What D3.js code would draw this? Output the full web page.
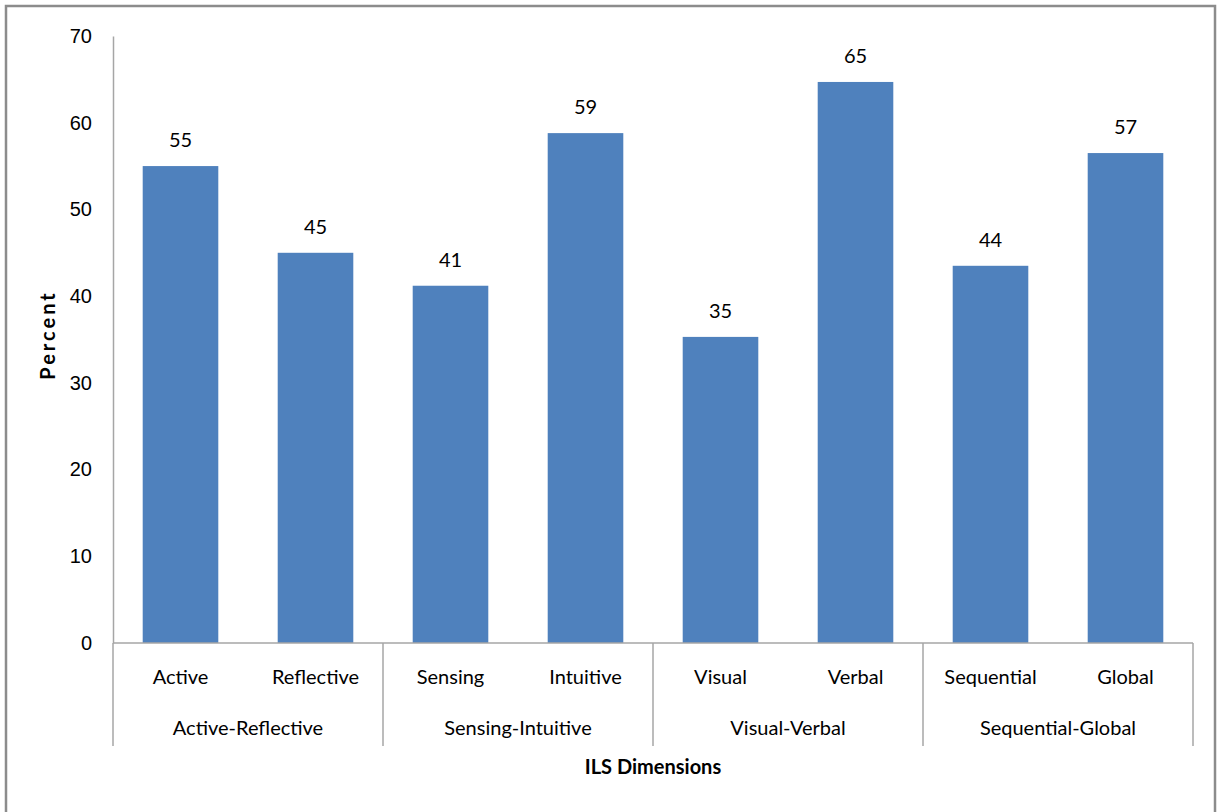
<!DOCTYPE html>
<html>
<head>
<meta charset="utf-8">
<script src="https://cdn.jsdelivr.net/npm/d3@7"></script>
<style>
  html, body { margin: 0; padding: 0; background: #fff; }
  svg { display: block; font-family: Lato, "Open Sans", sans-serif; }
</style>
</head>
<body>
<svg id="chart" width="1217" height="812"></svg>
<script>
// ── Data ────────────────────────────────────────────────
const categories = ['Active', 'Reflective', 'Sensing', 'Intuitive', 'Visual', 'Verbal', 'Sequential', 'Global'];
const groups     = ['Active-Reflective', 'Sensing-Intuitive', 'Visual-Verbal', 'Sequential-Global'];
const values     = [55.0, 45.0, 41.2, 58.8, 35.3, 64.7, 43.5, 56.5];
const yTicks     = [0, 10, 20, 30, 40, 50, 60, 70];

const svg = d3.select('#chart');
const plot = { left: 113, right: 1193, top: 36, bottom: 643 };
const axisColor = '#a6a6a6';
const barColor  = '#4f81bd';

// chart border
svg.append('rect')
    .attr('x', 6).attr('y', 6)
    .attr('width', 1209).attr('height', 830)
    .attr('fill', 'none').attr('stroke', '#8c8c8c').attr('stroke-width', 2.5);

const x = d3.scaleBand()
    .domain(categories)
    .range([plot.left, plot.right])
    .paddingInner(0.44)
    .paddingOuter(0.22);

const y = d3.scaleLinear().domain([0, 70]).range([plot.bottom, plot.top]);

// ── Y axis ───────────────────────────────────────────────
const yAxis = svg.append('g')
    .attr('transform', `translate(${plot.left},0)`)
    .call(d3.axisLeft(y).tickValues(yTicks).tickSize(0).tickPadding(21));
yAxis.select('.domain').attr('stroke', axisColor).attr('stroke-width', 1.5);
yAxis.selectAll('text').attr('font-size', 20).attr('fill', '#000');

// ── Bars ─────────────────────────────────────────────────
svg.append('g').selectAll('rect')
    .data(values)
    .join('rect')
    .attr('x', (d, i) => x(categories[i]))
    .attr('y', d => y(d))
    .attr('width', x.bandwidth())
    .attr('height', d => y(0) - y(d))
    .attr('fill', barColor);

svg.append('g').selectAll('text')
    .data(values)
    .join('text')
    .attr('x', (d, i) => x(categories[i]) + x.bandwidth() / 2)
    .attr('y', d => y(d) - 19)
    .attr('text-anchor', 'middle')
    .attr('font-size', 20)
    .text(d => Math.round(d));

// ── X axis (two-level) ───────────────────────────────────
svg.append('line')
    .attr('x1', plot.left).attr('x2', plot.right)
    .attr('y1', plot.bottom).attr('y2', plot.bottom)
    .attr('stroke', axisColor).attr('stroke-width', 1.5);

const groupW = (plot.right - plot.left) / groups.length;
d3.range(groups.length + 1).forEach(i => {
    svg.append('line')
        .attr('x1', plot.left + i * groupW).attr('x2', plot.left + i * groupW)
        .attr('y1', plot.bottom).attr('y2', 746)
        .attr('stroke', axisColor).attr('stroke-width', 1.5);
});

svg.append('g').selectAll('text')
    .data(categories)
    .join('text')
    .attr('x', d => x(d) + x.bandwidth() / 2)
    .attr('y', 684)
    .attr('text-anchor', 'middle')
    .attr('font-size', 20)
    .text(d => d);

svg.append('g').selectAll('text')
    .data(groups)
    .join('text')
    .attr('x', (d, i) => plot.left + (i + 0.5) * groupW)
    .attr('y', 735)
    .attr('text-anchor', 'middle')
    .attr('font-size', 20)
    .text(d => d);

// ── Axis titles ──────────────────────────────────────────
svg.append('text')
    .attr('x', 653)
    .attr('y', 774)
    .attr('text-anchor', 'middle')
    .attr('font-size', 20).attr('font-weight', 'bold')
    .text('ILS Dimensions');

svg.append('text')
    .attr('transform', 'translate(55,335) rotate(-90)')
    .attr('text-anchor', 'middle')
    .attr('font-size', 20).attr('font-weight', 'bold')
    .attr('letter-spacing', 3)
    .text('Percent');
</script>
</body>
</html>
